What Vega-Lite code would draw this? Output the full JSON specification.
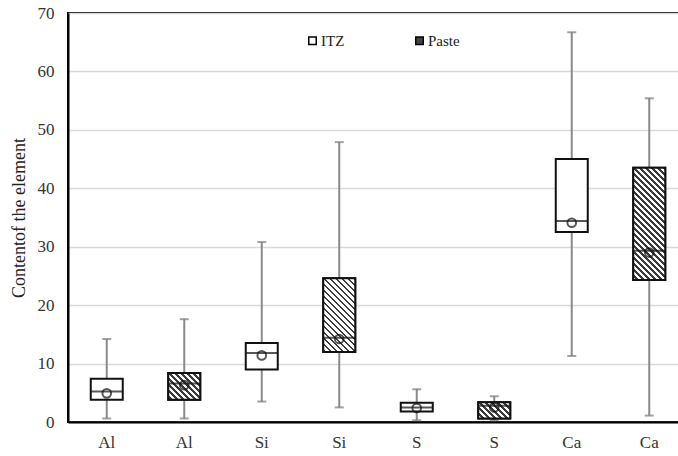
{
  "$schema": "https://vega.github.io/schema/vega-lite/v6.json",
  "width": 620,
  "height": 409,
  "autosize": {"type": "none"},
  "padding": {"left": 68, "top": 13, "right": 0, "bottom": 34},
  "background": "white",
  "config": {
    "view": {"stroke": "#000", "strokeWidth": 2},
    "axis": {"labelFont": "Liberation Serif", "titleFont": "Liberation Serif", "labelColor": "#333", "titleColor": "#222"}
  },
  "data": {
    "values": [
      {"id": "Al|1", "grp": "ITZ", "lo": 0.6, "q1": 3.8, "med": 5.2, "q3": 7.4, "hi": 14.2, "mean": 4.9},
      {"id": "Al|2", "grp": "Paste", "lo": 0.6, "q1": 3.8, "med": 6.6, "q3": 8.4, "hi": 17.6, "mean": 6.3},
      {"id": "Si|1", "grp": "ITZ", "lo": 3.5, "q1": 9.0, "med": 11.8, "q3": 13.5, "hi": 30.8, "mean": 11.4},
      {"id": "Si|2", "grp": "Paste", "lo": 2.5, "q1": 12.0, "med": 14.4, "q3": 24.6, "hi": 47.9, "mean": 14.2},
      {"id": "S|1", "grp": "ITZ", "lo": 0.3, "q1": 1.8, "med": 2.5, "q3": 3.3, "hi": 5.6, "mean": 2.4},
      {"id": "S|2", "grp": "Paste", "lo": 0.3, "q1": 0.6, "med": 2.8, "q3": 3.4, "hi": 4.4, "mean": 2.5},
      {"id": "Ca|1", "grp": "ITZ", "lo": 11.3, "q1": 32.5, "med": 34.4, "q3": 45.0, "hi": 66.7, "mean": 34.1},
      {"id": "Ca|2", "grp": "Paste", "lo": 1.1, "q1": 24.3, "med": 29.3, "q3": 43.5, "hi": 55.4, "mean": 29.0}
    ]
  },
  "encoding": {
    "x": {
      "field": "id", "type": "nominal", "sort": null,
      "scale": {"paddingInner": 0, "paddingOuter": 0},
      "axis": {"title": null, "labelExpr": "split(datum.value, '|')[0]", "labelAngle": 0, "labelFontSize": 17, "labelPadding": 12, "ticks": false, "domainColor": "#000", "domainWidth": 2, "grid": false}
    }
  },
  "layer": [
    {
      "mark": {"type": "rule", "color": "#8a8a8a", "strokeWidth": 2},
      "encoding": {
        "y": {"field": "lo", "type": "quantitative", "scale": {"domain": [0, 70], "nice": false},
          "axis": {"title": "Contentof the element", "values": [0, 10, 20, 30, 40, 50, 60, 70], "ticks": false, "labelPadding": 14, "labelFontSize": 17, "titleFontSize": 18, "titleFontWeight": "normal", "titlePadding": 9, "gridColor": "#d9d9d9", "gridWidth": 1.5, "domainColor": "#000", "domainWidth": 2}},
        "y2": {"field": "hi"}
      }
    },
    {
      "mark": {"type": "tick", "color": "#7a7a7a", "size": 9, "thickness": 2, "orient": "horizontal"},
      "encoding": {"y": {"field": "lo", "type": "quantitative"}}
    },
    {
      "mark": {"type": "tick", "color": "#7a7a7a", "size": 9, "thickness": 2, "orient": "horizontal"},
      "encoding": {"y": {"field": "hi", "type": "quantitative"}}
    },
    {
      "mark": {"type": "bar", "width": 32, "stroke": "#111", "strokeWidth": 2},
      "encoding": {
        "y": {"field": "q1", "type": "quantitative"},
        "y2": {"field": "q3"},
        "fill": {"field": "grp", "type": "nominal", "scale": {"domain": ["ITZ", "Paste"], "range": ["#ffffff", "#444444"]},
          "legend": {"title": null, "orient": "none", "legendX": 237, "legendY": 20, "direction": "horizontal", "symbolType": "square", "symbolSize": 56, "symbolStrokeColor": "#000", "symbolStrokeWidth": 1.5, "labelFont": "Liberation Serif", "labelFontSize": 15, "labelColor": "#222", "labelOffset": 1, "columnPadding": 67}}
      }
    },
    {
      "transform": [{"filter": "datum.id == 'Al|2'"}],
      "mark": {"type": "bar", "width": 32, "stroke": "#111", "strokeWidth": 2,
        "fill": {"gradient": "linear", "x1": 1, "y1": 0, "x2": -0.0788, "y2": 0.9062, "stops": [
          {"offset": 0, "color": "#3c3c3c"}, {"offset": 0.0442, "color": "#3c3c3c"}, {"offset": 0.0442, "color": "#ffffff"},
          {"offset": 0.1019, "color": "#ffffff"}, {"offset": 0.1019, "color": "#3c3c3c"}, {"offset": 0.1461, "color": "#3c3c3c"}, {"offset": 0.1461, "color": "#ffffff"},
          {"offset": 0.2038, "color": "#ffffff"}, {"offset": 0.2038, "color": "#3c3c3c"}, {"offset": 0.2480, "color": "#3c3c3c"}, {"offset": 0.2480, "color": "#ffffff"},
          {"offset": 0.3057, "color": "#ffffff"}, {"offset": 0.3057, "color": "#3c3c3c"}, {"offset": 0.3499, "color": "#3c3c3c"}, {"offset": 0.3499, "color": "#ffffff"},
          {"offset": 0.4076, "color": "#ffffff"}, {"offset": 0.4076, "color": "#3c3c3c"}, {"offset": 0.4518, "color": "#3c3c3c"}, {"offset": 0.4518, "color": "#ffffff"},
          {"offset": 0.5095, "color": "#ffffff"}, {"offset": 0.5095, "color": "#3c3c3c"}, {"offset": 0.5537, "color": "#3c3c3c"}, {"offset": 0.5537, "color": "#ffffff"},
          {"offset": 0.6114, "color": "#ffffff"}, {"offset": 0.6114, "color": "#3c3c3c"}, {"offset": 0.6556, "color": "#3c3c3c"}, {"offset": 0.6556, "color": "#ffffff"},
          {"offset": 0.7133, "color": "#ffffff"}, {"offset": 0.7133, "color": "#3c3c3c"}, {"offset": 0.7575, "color": "#3c3c3c"}, {"offset": 0.7575, "color": "#ffffff"},
          {"offset": 0.8152, "color": "#ffffff"}, {"offset": 0.8152, "color": "#3c3c3c"}, {"offset": 0.8594, "color": "#3c3c3c"}, {"offset": 0.8594, "color": "#ffffff"},
          {"offset": 0.9171, "color": "#ffffff"}, {"offset": 0.9171, "color": "#3c3c3c"}, {"offset": 0.9613, "color": "#3c3c3c"}, {"offset": 0.9613, "color": "#ffffff"},
          {"offset": 1, "color": "#ffffff"}]}},
      "encoding": {"y": {"field": "q1", "type": "quantitative"}, "y2": {"field": "q3"}}
    },
    {
      "transform": [{"filter": "datum.id == 'Si|2'"}],
      "mark": {"type": "bar", "width": 32, "stroke": "#111", "strokeWidth": 2,
        "fill": {"gradient": "linear", "x1": 1, "y1": 0, "x2": 0.4755, "y2": 1.2067, "stops": [
          {"offset": 0, "color": "#3c3c3c"}, {"offset": 0.0246, "color": "#3c3c3c"}, {"offset": 0.0246, "color": "#ffffff"},
          {"offset": 0.0568, "color": "#ffffff"}, {"offset": 0.0568, "color": "#3c3c3c"}, {"offset": 0.0814, "color": "#3c3c3c"}, {"offset": 0.0814, "color": "#ffffff"},
          {"offset": 0.1136, "color": "#ffffff"}, {"offset": 0.1136, "color": "#3c3c3c"}, {"offset": 0.1382, "color": "#3c3c3c"}, {"offset": 0.1382, "color": "#ffffff"},
          {"offset": 0.1704, "color": "#ffffff"}, {"offset": 0.1704, "color": "#3c3c3c"}, {"offset": 0.1950, "color": "#3c3c3c"}, {"offset": 0.1950, "color": "#ffffff"},
          {"offset": 0.2272, "color": "#ffffff"}, {"offset": 0.2272, "color": "#3c3c3c"}, {"offset": 0.2518, "color": "#3c3c3c"}, {"offset": 0.2518, "color": "#ffffff"},
          {"offset": 0.2840, "color": "#ffffff"}, {"offset": 0.2840, "color": "#3c3c3c"}, {"offset": 0.3086, "color": "#3c3c3c"}, {"offset": 0.3086, "color": "#ffffff"},
          {"offset": 0.3408, "color": "#ffffff"}, {"offset": 0.3408, "color": "#3c3c3c"}, {"offset": 0.3654, "color": "#3c3c3c"}, {"offset": 0.3654, "color": "#ffffff"},
          {"offset": 0.3977, "color": "#ffffff"}, {"offset": 0.3977, "color": "#3c3c3c"}, {"offset": 0.4223, "color": "#3c3c3c"}, {"offset": 0.4223, "color": "#ffffff"},
          {"offset": 0.4545, "color": "#ffffff"}, {"offset": 0.4545, "color": "#3c3c3c"}, {"offset": 0.4791, "color": "#3c3c3c"}, {"offset": 0.4791, "color": "#ffffff"},
          {"offset": 0.5113, "color": "#ffffff"}, {"offset": 0.5113, "color": "#3c3c3c"}, {"offset": 0.5359, "color": "#3c3c3c"}, {"offset": 0.5359, "color": "#ffffff"},
          {"offset": 0.5681, "color": "#ffffff"}, {"offset": 0.5681, "color": "#3c3c3c"}, {"offset": 0.5927, "color": "#3c3c3c"}, {"offset": 0.5927, "color": "#ffffff"},
          {"offset": 0.6249, "color": "#ffffff"}, {"offset": 0.6249, "color": "#3c3c3c"}, {"offset": 0.6495, "color": "#3c3c3c"}, {"offset": 0.6495, "color": "#ffffff"},
          {"offset": 0.6817, "color": "#ffffff"}, {"offset": 0.6817, "color": "#3c3c3c"}, {"offset": 0.7063, "color": "#3c3c3c"}, {"offset": 0.7063, "color": "#ffffff"},
          {"offset": 0.7385, "color": "#ffffff"}, {"offset": 0.7385, "color": "#3c3c3c"}, {"offset": 0.7631, "color": "#3c3c3c"}, {"offset": 0.7631, "color": "#ffffff"},
          {"offset": 0.7953, "color": "#ffffff"}, {"offset": 0.7953, "color": "#3c3c3c"}, {"offset": 0.8199, "color": "#3c3c3c"}, {"offset": 0.8199, "color": "#ffffff"},
          {"offset": 0.8521, "color": "#ffffff"}, {"offset": 0.8521, "color": "#3c3c3c"}, {"offset": 0.8767, "color": "#3c3c3c"}, {"offset": 0.8767, "color": "#ffffff"},
          {"offset": 0.9089, "color": "#ffffff"}, {"offset": 0.9089, "color": "#3c3c3c"}, {"offset": 0.9335, "color": "#3c3c3c"}, {"offset": 0.9335, "color": "#ffffff"},
          {"offset": 0.9657, "color": "#ffffff"}, {"offset": 0.9657, "color": "#3c3c3c"}, {"offset": 0.9903, "color": "#3c3c3c"}, {"offset": 0.9903, "color": "#ffffff"},
          {"offset": 1, "color": "#ffffff"}]}},
      "encoding": {"y": {"field": "q1", "type": "quantitative"}, "y2": {"field": "q3"}}
    },
    {
      "transform": [{"filter": "datum.id == 'S|2'"}],
      "mark": {"type": "bar", "width": 32, "stroke": "#111", "strokeWidth": 2,
        "fill": {"gradient": "linear", "x1": 1, "y1": 0, "x2": -0.1981, "y2": 0.6125, "stops": [
          {"offset": 0, "color": "#3c3c3c"}, {"offset": 0.0538, "color": "#3c3c3c"}, {"offset": 0.0538, "color": "#ffffff"},
          {"offset": 0.1241, "color": "#ffffff"}, {"offset": 0.1241, "color": "#3c3c3c"}, {"offset": 0.1778, "color": "#3c3c3c"}, {"offset": 0.1778, "color": "#ffffff"},
          {"offset": 0.2481, "color": "#ffffff"}, {"offset": 0.2481, "color": "#3c3c3c"}, {"offset": 0.3019, "color": "#3c3c3c"}, {"offset": 0.3019, "color": "#ffffff"},
          {"offset": 0.3722, "color": "#ffffff"}, {"offset": 0.3722, "color": "#3c3c3c"}, {"offset": 0.4260, "color": "#3c3c3c"}, {"offset": 0.4260, "color": "#ffffff"},
          {"offset": 0.4963, "color": "#ffffff"}, {"offset": 0.4963, "color": "#3c3c3c"}, {"offset": 0.5500, "color": "#3c3c3c"}, {"offset": 0.5500, "color": "#ffffff"},
          {"offset": 0.6203, "color": "#ffffff"}, {"offset": 0.6203, "color": "#3c3c3c"}, {"offset": 0.6741, "color": "#3c3c3c"}, {"offset": 0.6741, "color": "#ffffff"},
          {"offset": 0.7444, "color": "#ffffff"}, {"offset": 0.7444, "color": "#3c3c3c"}, {"offset": 0.7982, "color": "#3c3c3c"}, {"offset": 0.7982, "color": "#ffffff"},
          {"offset": 0.8685, "color": "#ffffff"}, {"offset": 0.8685, "color": "#3c3c3c"}, {"offset": 0.9222, "color": "#3c3c3c"}, {"offset": 0.9222, "color": "#ffffff"},
          {"offset": 0.9926, "color": "#ffffff"}, {"offset": 0.9926, "color": "#3c3c3c"}, {"offset": 1, "color": "#3c3c3c"}]}},
      "encoding": {"y": {"field": "q1", "type": "quantitative"}, "y2": {"field": "q3"}}
    },
    {
      "transform": [{"filter": "datum.id == 'Ca|2'"}],
      "mark": {"type": "bar", "width": 32, "stroke": "#111", "strokeWidth": 2,
        "fill": {"gradient": "linear", "x1": 1, "y1": 0, "x2": 0.6610, "y2": 1.1885, "stops": [
          {"offset": 0, "color": "#3c3c3c"}, {"offset": 0.0180, "color": "#3c3c3c"}, {"offset": 0.0180, "color": "#ffffff"},
          {"offset": 0.0416, "color": "#ffffff"}, {"offset": 0.0416, "color": "#3c3c3c"}, {"offset": 0.0596, "color": "#3c3c3c"}, {"offset": 0.0596, "color": "#ffffff"},
          {"offset": 0.0832, "color": "#ffffff"}, {"offset": 0.0832, "color": "#3c3c3c"}, {"offset": 0.1012, "color": "#3c3c3c"}, {"offset": 0.1012, "color": "#ffffff"},
          {"offset": 0.1248, "color": "#ffffff"}, {"offset": 0.1248, "color": "#3c3c3c"}, {"offset": 0.1428, "color": "#3c3c3c"}, {"offset": 0.1428, "color": "#ffffff"},
          {"offset": 0.1664, "color": "#ffffff"}, {"offset": 0.1664, "color": "#3c3c3c"}, {"offset": 0.1844, "color": "#3c3c3c"}, {"offset": 0.1844, "color": "#ffffff"},
          {"offset": 0.2081, "color": "#ffffff"}, {"offset": 0.2081, "color": "#3c3c3c"}, {"offset": 0.2261, "color": "#3c3c3c"}, {"offset": 0.2261, "color": "#ffffff"},
          {"offset": 0.2497, "color": "#ffffff"}, {"offset": 0.2497, "color": "#3c3c3c"}, {"offset": 0.2677, "color": "#3c3c3c"}, {"offset": 0.2677, "color": "#ffffff"},
          {"offset": 0.2913, "color": "#ffffff"}, {"offset": 0.2913, "color": "#3c3c3c"}, {"offset": 0.3093, "color": "#3c3c3c"}, {"offset": 0.3093, "color": "#ffffff"},
          {"offset": 0.3329, "color": "#ffffff"}, {"offset": 0.3329, "color": "#3c3c3c"}, {"offset": 0.3509, "color": "#3c3c3c"}, {"offset": 0.3509, "color": "#ffffff"},
          {"offset": 0.3745, "color": "#ffffff"}, {"offset": 0.3745, "color": "#3c3c3c"}, {"offset": 0.3925, "color": "#3c3c3c"}, {"offset": 0.3925, "color": "#ffffff"},
          {"offset": 0.4161, "color": "#ffffff"}, {"offset": 0.4161, "color": "#3c3c3c"}, {"offset": 0.4341, "color": "#3c3c3c"}, {"offset": 0.4341, "color": "#ffffff"},
          {"offset": 0.4577, "color": "#ffffff"}, {"offset": 0.4577, "color": "#3c3c3c"}, {"offset": 0.4757, "color": "#3c3c3c"}, {"offset": 0.4757, "color": "#ffffff"},
          {"offset": 0.4993, "color": "#ffffff"}, {"offset": 0.4993, "color": "#3c3c3c"}, {"offset": 0.5173, "color": "#3c3c3c"}, {"offset": 0.5173, "color": "#ffffff"},
          {"offset": 0.5410, "color": "#ffffff"}, {"offset": 0.5410, "color": "#3c3c3c"}, {"offset": 0.5590, "color": "#3c3c3c"}, {"offset": 0.5590, "color": "#ffffff"},
          {"offset": 0.5826, "color": "#ffffff"}, {"offset": 0.5826, "color": "#3c3c3c"}, {"offset": 0.6006, "color": "#3c3c3c"}, {"offset": 0.6006, "color": "#ffffff"},
          {"offset": 0.6242, "color": "#ffffff"}, {"offset": 0.6242, "color": "#3c3c3c"}, {"offset": 0.6422, "color": "#3c3c3c"}, {"offset": 0.6422, "color": "#ffffff"},
          {"offset": 0.6658, "color": "#ffffff"}, {"offset": 0.6658, "color": "#3c3c3c"}, {"offset": 0.6838, "color": "#3c3c3c"}, {"offset": 0.6838, "color": "#ffffff"},
          {"offset": 0.7074, "color": "#ffffff"}, {"offset": 0.7074, "color": "#3c3c3c"}, {"offset": 0.7254, "color": "#3c3c3c"}, {"offset": 0.7254, "color": "#ffffff"},
          {"offset": 0.7490, "color": "#ffffff"}, {"offset": 0.7490, "color": "#3c3c3c"}, {"offset": 0.7670, "color": "#3c3c3c"}, {"offset": 0.7670, "color": "#ffffff"},
          {"offset": 0.7906, "color": "#ffffff"}, {"offset": 0.7906, "color": "#3c3c3c"}, {"offset": 0.8086, "color": "#3c3c3c"}, {"offset": 0.8086, "color": "#ffffff"},
          {"offset": 0.8322, "color": "#ffffff"}, {"offset": 0.8322, "color": "#3c3c3c"}, {"offset": 0.8502, "color": "#3c3c3c"}, {"offset": 0.8502, "color": "#ffffff"},
          {"offset": 0.8739, "color": "#ffffff"}, {"offset": 0.8739, "color": "#3c3c3c"}, {"offset": 0.8919, "color": "#3c3c3c"}, {"offset": 0.8919, "color": "#ffffff"},
          {"offset": 0.9155, "color": "#ffffff"}, {"offset": 0.9155, "color": "#3c3c3c"}, {"offset": 0.9335, "color": "#3c3c3c"}, {"offset": 0.9335, "color": "#ffffff"},
          {"offset": 0.9571, "color": "#ffffff"}, {"offset": 0.9571, "color": "#3c3c3c"}, {"offset": 0.9751, "color": "#3c3c3c"}, {"offset": 0.9751, "color": "#ffffff"},
          {"offset": 0.9987, "color": "#ffffff"}, {"offset": 0.9987, "color": "#3c3c3c"}, {"offset": 1, "color": "#3c3c3c"}]}},
      "encoding": {"y": {"field": "q1", "type": "quantitative"}, "y2": {"field": "q3"}}
    },
    {
      "mark": {"type": "tick", "color": "#111", "size": 32, "thickness": 2, "orient": "horizontal"},
      "encoding": {"y": {"field": "med", "type": "quantitative"}}
    },
    {
      "mark": {"type": "point", "shape": "circle", "filled": false, "size": 75, "stroke": "#111", "strokeWidth": 2},
      "encoding": {"y": {"field": "mean", "type": "quantitative"}}
    }
  ]
}
